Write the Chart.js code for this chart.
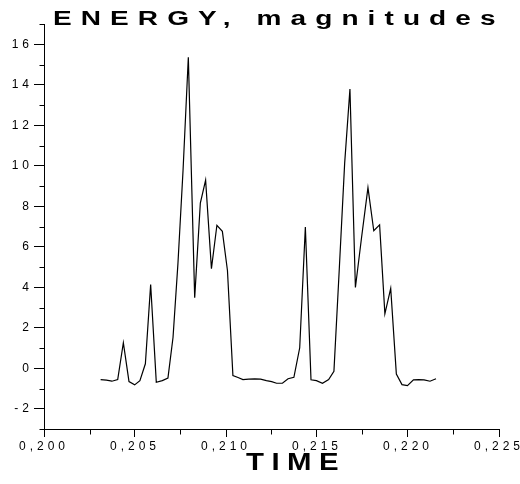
<!DOCTYPE html>
<html>
<head>
<meta charset="utf-8">
<script src="https://cdn.jsdelivr.net/npm/chart.js@4/dist/chart.umd.min.js"></script>
<style>
  html, body { margin: 0; padding: 0; background: #fff; }
  #c { display: block; }
</style>
</head>
<body>
<canvas id="c" width="520" height="484"></canvas>
<script>
// ---- data ----
const TITLE = "ENERGY, magnitudes";
const X_TITLE = "TIME";

const time = [
  0.20311, 0.20343, 0.20373, 0.20405, 0.20436, 0.20467, 0.20498, 0.20527, 0.20557, 0.20586,
  0.20617, 0.20650, 0.20681, 0.20709, 0.20736, 0.20764, 0.20793, 0.20828, 0.20859, 0.20888,
  0.20920, 0.20950, 0.20980, 0.21008, 0.21038, 0.21066, 0.21093, 0.21125, 0.21158, 0.21190,
  0.21222, 0.21251, 0.21278, 0.21310, 0.21341, 0.21373, 0.21405, 0.21436, 0.21467, 0.21497,
  0.21530, 0.21564, 0.21593, 0.21623, 0.21652, 0.21681, 0.21711, 0.21745, 0.21780, 0.21812,
  0.21844, 0.21873, 0.21905, 0.21936, 0.21967, 0.21997, 0.22030, 0.22059, 0.22088, 0.22121,
  0.22154
];
const energy = [
  -0.56, -0.59, -0.64, -0.56, 1.26, -0.66, -0.82, -0.61, 0.22, 4.14,
  -0.69, -0.61, -0.49, 1.53, 5.18, 9.78, 15.36, 3.48, 8.16, 9.29,
  4.92, 7.06, 6.76, 4.83, -0.36, -0.46, -0.56, -0.54, -0.52, -0.54,
  -0.61, -0.66, -0.74, -0.74, -0.52, -0.45, 1.01, 6.98, -0.57, -0.61,
  -0.74, -0.56, -0.15, 5.0, 10.13, 13.79, 3.99, 6.47, 8.92, 6.79,
  7.08, 2.69, 3.94, -0.29, -0.81, -0.86, -0.57, -0.56, -0.57, -0.64,
  -0.52
];
const xMin = 0.200, xMax = 0.225, xStep = 0.005;
const yMin = -3, yMax = 17, yStep = 1;
const xMinorTicks = [0.2025, 0.2075, 0.2125, 0.2175, 0.2225];
const yMinorTicks = [-3, -1, 1, 3, 5, 7, 9, 11, 13, 15, 17];

const FONT = '"Liberation Sans", Arial, sans-serif';
const isOdd = v => Math.abs(Math.round(v)) % 2 === 1;

const textPlugin = {
  id: 'textPlugin',
  beforeDraw(chart) {
    chart.ctx.letterSpacing = '4px';
  },
  afterDraw(chart) {
    const ctx = chart.ctx;
    const xs = chart.scales.x, ys = chart.scales.y;
    // minor ticks
    ctx.save();
    ctx.letterSpacing = '0px';
    ctx.strokeStyle = '#000';
    ctx.lineWidth = 1;
    ctx.beginPath();
    const yAxisX = Math.round(chart.chartArea.left) + 0.5;
    yMinorTicks.forEach(v => {
      const py = Math.round(ys.getPixelForValue(v)) + 0.5;
      ctx.moveTo(yAxisX - 5, py);
      ctx.lineTo(yAxisX, py);
    });
    const xAxisY = Math.round(chart.chartArea.bottom) + 0.5;
    xMinorTicks.forEach(v => {
      const px = Math.round(xs.getPixelForValue(v)) + 0.5;
      ctx.moveTo(px, xAxisY);
      ctx.lineTo(px, xAxisY + 5);
    });
    ctx.stroke();
    ctx.restore();

    // chart title
    ctx.save();
    ctx.fillStyle = '#000';
    ctx.font = 'bold 20px ' + FONT;
    ctx.textBaseline = 'alphabetic';
    ctx.textAlign = 'left';
    ctx.letterSpacing = '6.5px';
    ctx.translate(53, 25);
    ctx.scale(1.4, 1);
    ctx.fillText(TITLE, 0, 0);
    ctx.restore();

    // x axis title
    ctx.save();
    ctx.fillStyle = '#000';
    ctx.font = 'bold 23.5px ' + FONT;
    ctx.textBaseline = 'alphabetic';
    ctx.textAlign = 'left';
    ctx.letterSpacing = '6px';
    ctx.translate(246, 470);
    ctx.scale(1.25, 1);
    ctx.fillText(X_TITLE, 0, 0);
    ctx.restore();
  }
};

new Chart(document.getElementById('c'), {
  type: 'line',
  data: {
    datasets: [{
      data: time.map((t, i) => ({ x: t, y: energy[i] })),
      borderColor: '#000',
      borderWidth: 1.2,
      pointRadius: 0,
      tension: 0,
      fill: false
    }]
  },
  options: {
    responsive: false,
    animation: false,
    devicePixelRatio: 1,
    layout: { padding: { left: 0, right: 21, top: 24, bottom: 0 } },
    plugins: { legend: { display: false }, title: { display: false }, tooltip: { enabled: false } },
    scales: {
      x: {
        type: 'linear',
        min: xMin, max: xMax,
        afterFit(scale) { scale.height = 55; scale.paddingLeft = 0; scale.paddingRight = 0; },
        ticks: {
          stepSize: xStep,
          color: '#000',
          font: { family: FONT, size: 12 },
          padding: 2,
          maxRotation: 0,
          autoSkip: false,
          callback: v => v.toFixed(3).replace('.', ',')
        },
        grid: { drawOnChartArea: false, drawTicks: true, tickLength: 8, tickColor: '#000', color: '#000' },
        border: { display: true, color: '#000', width: 1 }
      },
      y: {
        type: 'linear',
        min: yMin, max: yMax,
        afterFit(scale) { scale.width = 44; scale.paddingTop = 0; scale.paddingBottom = 0; },
        ticks: {
          stepSize: yStep,
          color: '#000',
          font: { family: FONT, size: 12 },
          padding: 1,
          autoSkip: false,
          callback: v => (isOdd(v) ? '' : String(v))
        },
        grid: {
          drawOnChartArea: false, drawTicks: true, tickLength: 10,
          tickColor: c => (c.tick && isOdd(c.tick.value) ? 'rgba(0,0,0,0)' : '#000'),
          color: '#000'
        },
        border: { display: true, color: '#000', width: 1 }
      }
    }
  },
  plugins: [textPlugin]
});
</script>
</body>
</html>
